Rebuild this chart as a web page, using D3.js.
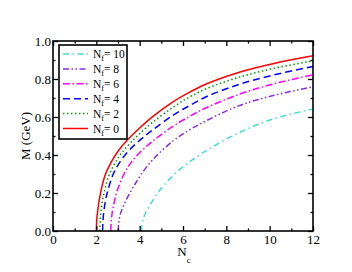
<!DOCTYPE html>
<html>
<head>
<meta charset="utf-8">
<script src="https://cdn.jsdelivr.net/npm/d3@7"></script>
<style>
  body { margin: 0; background: #fff; }
  svg text { font-family: "Liberation Serif", "Times New Roman", Times, serif !important; }
</style>
</head>
<body>
<div id="chart"></div>
<script>
// values (Nc, M in GeV)
var ncNf0 = [2.0, 2.02, 2.08, 2.16, 2.26, 2.42, 2.7, 3.0, 3.44, 4.0, 4.6, 5.5, 6.2, 7.1, 8.6, 10.2, 12];
var mNf0  = [0, 0.06, 0.12, 0.18, 0.235, 0.298, 0.365, 0.42, 0.48, 0.542, 0.602, 0.677, 0.724, 0.775, 0.836, 0.882, 0.922];

var ncNf2 = [2.16, 2.18, 2.23, 2.31, 2.42, 2.59, 2.9, 3.2, 3.7, 4.0, 4.6, 5.55, 6.3, 7.1, 8.6, 10.2, 12];
var mNf2  = [0, 0.06, 0.12, 0.175, 0.23, 0.295, 0.365, 0.415, 0.479, 0.512, 0.572, 0.652, 0.705, 0.75, 0.81, 0.856, 0.896];

var ncNf4 = [2.29, 2.31, 2.36, 2.44, 2.55, 2.78, 3.1, 3.5, 4.05, 4.6, 5.55, 6.3, 7.1, 8.6, 10.2, 12];
var mNf4  = [0, 0.06, 0.115, 0.17, 0.22, 0.3, 0.365, 0.423, 0.482, 0.532, 0.61, 0.66, 0.708, 0.772, 0.822, 0.866];

var ncNf6 = [2.67, 2.69, 2.75, 2.84, 2.97, 3.28, 3.6, 4.0, 4.62, 5.55, 6.3, 7.1, 8.6, 10.2, 12];
var mNf6  = [0, 0.055, 0.11, 0.16, 0.215, 0.3, 0.36, 0.412, 0.475, 0.552, 0.603, 0.65, 0.72, 0.775, 0.822];

var ncNf8 = [3.01, 3.03, 3.1, 3.26, 3.5, 3.75, 4.05, 4.6, 5.55, 6.3, 7.1, 8.6, 10.2, 12];
var mNf8  = [0, 0.04, 0.085, 0.135, 0.19, 0.24, 0.295, 0.375, 0.475, 0.532, 0.582, 0.66, 0.714, 0.759];

var ncNf10 = [4.08, 4.1, 4.16, 4.27, 4.47, 5.0, 5.86, 6.63, 7.4, 8.63, 10.17, 12];
var mNf10  = [0, 0.03, 0.06, 0.095, 0.135, 0.225, 0.325, 0.39, 0.445, 0.52, 0.59, 0.642];

var legendLabels = ["10", "8", "6", "4", "2", "0"];
var xTicks = [0, 2, 4, 6, 8, 10, 12];
var xMinor = [1, 3, 5, 7, 9, 11];
var yTicks = [0, 0.2, 0.4, 0.6, 0.8, 1.0];
var yMinor = [0.1, 0.3, 0.5, 0.7, 0.9];

var svgWidth = 352;
var svgHeight = 272;

var margin = { top: 41, right: 39, bottom: 41, left: 53 };
var width = svgWidth - margin.left - margin.right;
var height = svgHeight - margin.top - margin.bottom;

var svg = d3.select("#chart")
  .append("svg")
  .attr("width", svgWidth)
  .attr("height", svgHeight);

svg.append("rect")
  .attr("width", svgWidth)
  .attr("height", svgHeight)
  .attr("fill", "#fff");

var chartGroup = svg.append("g")
  .attr("transform", `translate(${margin.left}, ${margin.top})`);

var xScale = d3.scaleLinear().domain([0, 12]).range([0, width]);
var yScale = d3.scaleLinear().domain([0, 1]).range([height, 0]);

// series table, built from the arrays above
var series = [
  { nc: ncNf10, m: mNf10, color: "#40e0d0", dash: "6,3.5,1.5,3.5" },
  { nc: ncNf8,  m: mNf8,  color: "#8a2be2", dash: "6,2.5,1.5,2.5,1.5,2.5" },
  { nc: ncNf6,  m: mNf6,  color: "#ff00ff", dash: "7,2.5,1.5,2.5" },
  { nc: ncNf4,  m: mNf4,  color: "#0000ff", dash: "7,4" },
  { nc: ncNf2,  m: mNf2,  color: "#009a00", dash: "1.5,2.5" },
  { nc: ncNf0,  m: mNf0,  color: "#ff0000", dash: null }
];

var line = d3.line()
  .x(d => xScale(d[0]))
  .y(d => yScale(d[1]))
  .curve(d3.curveCatmullRom.alpha(0.5));

chartGroup.selectAll("path.curve")
  .data(series)
  .enter()
  .append("path")
  .attr("class", "curve")
  .attr("d", s => line(s.nc.map((v, i) => [v, s.m[i]])))
  .attr("fill", "none")
  .attr("stroke", s => s.color)
  .attr("stroke-width", 1.5)
  .attr("stroke-dasharray", s => s.dash);

// axes: ticks point inward on all four sides
function styleAxis(g) {
  g.select(".domain").remove();
  g.selectAll(".tick line").attr("stroke", "#000").attr("stroke-width", 1.3);
  g.selectAll(".tick text")
    .attr("fill", "#000")
    .style("font-size", "13px");
}

chartGroup.append("g")
  .attr("transform", `translate(0, ${height})`)
  .call(d3.axisBottom(xScale).tickValues(xTicks).tickSize(-5).tickPadding(4).tickFormat(d3.format("d")))
  .call(styleAxis);

chartGroup.append("g")
  .attr("transform", `translate(0, ${height})`)
  .call(d3.axisBottom(xScale).tickValues(xMinor).tickSize(-2.5).tickFormat(""))
  .call(styleAxis);

chartGroup.append("g")
  .call(d3.axisTop(xScale).tickValues(xTicks).tickSize(-5).tickFormat(""))
  .call(styleAxis);

chartGroup.append("g")
  .call(d3.axisTop(xScale).tickValues(xMinor).tickSize(-2.5).tickFormat(""))
  .call(styleAxis);

chartGroup.append("g")
  .call(d3.axisLeft(yScale).tickValues(yTicks).tickSize(-5).tickPadding(2).tickFormat(d3.format(".1f")))
  .call(styleAxis);

chartGroup.append("g")
  .call(d3.axisLeft(yScale).tickValues(yMinor).tickSize(-2.5).tickFormat(""))
  .call(styleAxis);

chartGroup.append("g")
  .attr("transform", `translate(${width}, 0)`)
  .call(d3.axisRight(yScale).tickValues(yTicks).tickSize(-5).tickFormat(""))
  .call(styleAxis);

chartGroup.append("g")
  .attr("transform", `translate(${width}, 0)`)
  .call(d3.axisRight(yScale).tickValues(yMinor).tickSize(-2.5).tickFormat(""))
  .call(styleAxis);

// frame
chartGroup.append("rect")
  .attr("width", width)
  .attr("height", height)
  .attr("fill", "none")
  .attr("stroke", "#000")
  .attr("stroke-width", 1.6);

// axis labels
var xLabel = chartGroup.append("text")
  .attr("x", 131)
  .attr("y", height + 25)
  .attr("text-anchor", "middle")
  .style("font-size", "13px");
xLabel.append("tspan").text("N");
xLabel.append("tspan").attr("dy", 7).style("font-size", "9px").text("c");

chartGroup.append("text")
  .attr("transform", "rotate(-90)")
  .attr("x", -(height / 2))
  .attr("y", -23)
  .attr("text-anchor", "middle")
  .style("font-size", "13px")
  .text("M (GeV)");

// legend
var legend = chartGroup.append("g")
  .attr("transform", "translate(6, 4)");

legend.append("rect")
  .attr("width", 68)
  .attr("height", 94)
  .attr("fill", "#fff")
  .attr("stroke", "#000")
  .attr("stroke-width", 1.6);

var rows = legend.selectAll("g.row")
  .data(series)
  .enter()
  .append("g")
  .attr("class", "row")
  .attr("transform", (d, i) => `translate(0, ${9 + i * 14.9})`);

rows.append("line")
  .attr("x1", 4)
  .attr("x2", 29)
  .attr("stroke", d => d.color)
  .attr("stroke-width", 1.5)
  .attr("stroke-dasharray", d => d.dash);

var labelText = rows.append("text")
  .attr("x", 34)
  .attr("y", 4)
  .style("font-size", "11.5px");
labelText.append("tspan").text("N");
labelText.append("tspan").attr("dy", 3).style("font-size", "8px").text("f");
labelText.append("tspan").attr("dy", -3).text((d, i) => "= " + legendLabels[i]);
</script>
</body>
</html>
